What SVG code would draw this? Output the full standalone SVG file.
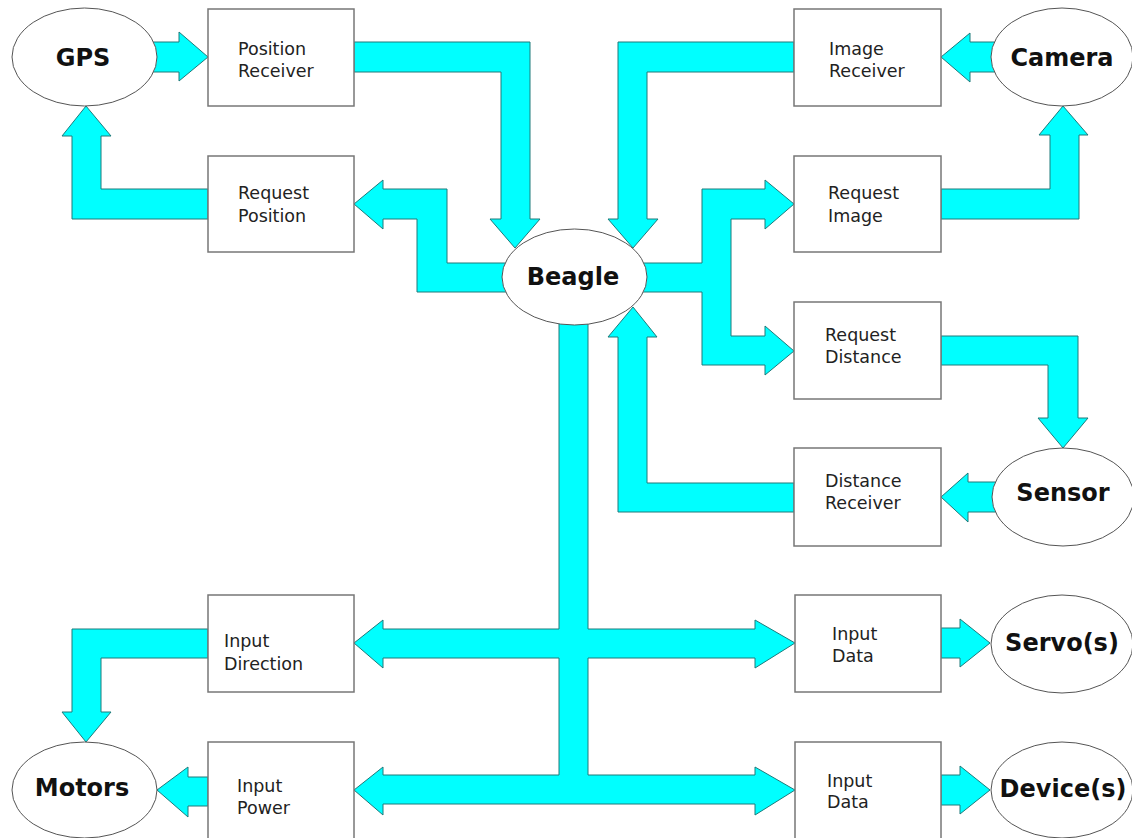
<svg xmlns="http://www.w3.org/2000/svg" width="1132" height="838" viewBox="0 0 1132 838">
<style>
.arr{fill:#00ffff;stroke:#1e7a7a;stroke-width:1;stroke-linejoin:miter}
.box{fill:#ffffff;stroke:#777777;stroke-width:1.5}
.ell{fill:#ffffff;stroke:#555555;stroke-width:1}
.bt{font-family:"DejaVu Sans","Verdana",sans-serif;font-size:17.5px;fill:#222222}
.lt{font-family:"DejaVu Sans","Verdana",sans-serif;font-size:24px;font-weight:bold;fill:#111111;text-anchor:middle}
</style>
<rect x="0" y="0" width="1132" height="838" fill="#ffffff"/>
<g id="connectors">
<polygon class="arr" points="150,42 179,42 179,32 208,57 179,81 179,72 150,72"/>
<polygon class="arr" points="354,42 530,42 530,219 540,219 515,248 490,219 501,219 501,72 354,72"/>
<polygon class="arr" points="208,189 101,189 101,136 111,136 86,106 62,136 72,136 72,219 208,219"/>
<polygon class="arr" points="512,263 447,263 447,189 383,189 383,180 354,204 383,229 383,219 417,219 417,292 512,292"/>
<polygon class="arr" points="794,42 618,42 618,219 608,219 633,248 658,219 647,219 647,72 794,72"/>
<polygon class="arr" points="1000,42 970,42 970,33 941,57 970,82 970,72 1000,72"/>
<polygon class="arr" points="941,189 1050,189 1050,135 1039,135 1063,106 1088,135 1079,135 1079,219 941,219"/>
<polygon class="arr" points="637,263 702,263 702,189 765,189 765,180 794,204 765,229 765,219 731,219 731,336 765,336 765,326 794,351 765,375 765,365 702,365 702,292 637,292"/>
<polygon class="arr" points="941,336 1078,336 1078,418 1088,418 1063,448 1038,418 1048,418 1048,365 941,365"/>
<polygon class="arr" points="1000,482 968,482 968,473 941,497 968,522 968,512 1000,512"/>
<polygon class="arr" points="794,483 647,483 647,337 657,337 633,307 608,337 618,337 618,512 794,512"/>
<polygon class="arr" points="559,318 588,318 588,629 755,629 755,620 795,643 755,668 755,658 588,658 588,775 755,775 755,767 795,790 755,815 755,804 383,804 383,815 354,790 383,767 383,775 559,775 559,658 383,658 383,668 354,643 383,620 383,629 559,629"/>
<polygon class="arr" points="208,629 72,629 72,712 62,712 86,742 111,712 101,712 101,658 208,658"/>
<polygon class="arr" points="208,777 188,777 188,767 157,790 188,817 188,806 208,806"/>
<polygon class="arr" points="941,628 960,628 960,619 990,643 960,667 960,658 941,658"/>
<polygon class="arr" points="941,775 960,775 960,766 990,790 960,814 960,805 941,805"/>
</g>
<g id="gps"><ellipse class="ell" cx="84.5" cy="57" rx="72.5" ry="49"/><text class="lt" x="83" y="66">GPS</text></g>
<g id="beagle"><ellipse class="ell" cx="574.5" cy="277" rx="72.5" ry="48"/><text class="lt" x="573" y="285">Beagle</text></g>
<g id="camera"><ellipse class="ell" cx="1062" cy="57" rx="71" ry="49"/><text class="lt" x="1062" y="66">Camera</text></g>
<g id="sensor"><ellipse class="ell" cx="1063" cy="497" rx="71" ry="49"/><text class="lt" x="1063" y="501">Sensor</text></g>
<g id="motors"><ellipse class="ell" cx="84.5" cy="790" rx="72.5" ry="48"/><text class="lt" x="82" y="796">Motors</text></g>
<g id="servos"><ellipse class="ell" cx="1062" cy="644" rx="71" ry="49"/><text class="lt" x="1062" y="651">Servo(s)</text></g>
<g id="devices"><ellipse class="ell" cx="1062" cy="790" rx="71" ry="48"/><text class="lt" x="1063" y="797">Device(s)</text></g>
<g id="position-receiver"><rect class="box" x="208" y="9" width="146" height="97"/><text class="bt" x="238" y="55">Position<tspan x="238" y="77">Receiver</tspan></text></g>
<g id="request-position"><rect class="box" x="208" y="156" width="146" height="96"/><text class="bt" x="238" y="199">Request<tspan x="238" y="222">Position</tspan></text></g>
<g id="image-receiver"><rect class="box" x="794" y="9" width="147" height="97"/><text class="bt" x="829" y="55">Image<tspan x="829" y="77">Receiver</tspan></text></g>
<g id="request-image"><rect class="box" x="794" y="156" width="147" height="96"/><text class="bt" x="828" y="199">Request<tspan x="828" y="222">Image</tspan></text></g>
<g id="request-distance"><rect class="box" x="794" y="302" width="147" height="97"/><text class="bt" x="825" y="341">Request<tspan x="825" y="363">Distance</tspan></text></g>
<g id="distance-receiver"><rect class="box" x="794" y="448" width="147" height="98"/><text class="bt" x="825" y="487">Distance<tspan x="825" y="509">Receiver</tspan></text></g>
<g id="input-direction"><rect class="box" x="208" y="595" width="146" height="97"/><text class="bt" x="224" y="647">Input<tspan x="224" y="670">Direction</tspan></text></g>
<g id="input-power"><rect class="box" x="208" y="742" width="146" height="97"/><text class="bt" x="237" y="792">Input<tspan x="237" y="814">Power</tspan></text></g>
<g id="input-data-servo"><rect class="box" x="795" y="595" width="146" height="97"/><text class="bt" x="832" y="640">Input<tspan x="832" y="662">Data</tspan></text></g>
<g id="input-data-device"><rect class="box" x="795" y="742" width="146" height="97"/><text class="bt" x="827" y="787">Input<tspan x="827" y="808">Data</tspan></text></g>
</svg>
